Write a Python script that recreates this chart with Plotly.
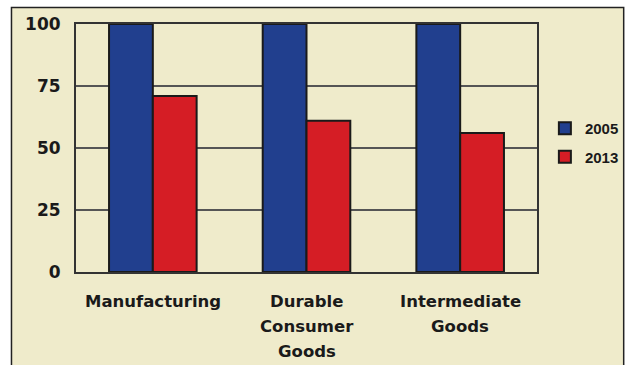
import plotly.graph_objects as go

categories = ["Manufacturing", "Durable\nConsumer\nGoods", "Intermediate\nGoods"]
series_names = ["2005", "2013"]
values_2005 = [100, 100, 100]
values_2013 = [71, 61, 56]
y_ticks = [0, 25, 50, 75, 100]

colors = {"2005": "#213f8e", "2013": "#d51d25"}
W, H = 636, 365
ML, MR, MT, MB = 76, 92, 24, 93
plot_w = W - ML - MR
plot_h = H - MT - MB

fig = go.Figure()
for name, vals in zip(series_names, [values_2005, values_2013]):
    fig.add_trace(go.Bar(
        x=list(range(len(categories))), y=vals, name=name,
        legendgroup=name,
        marker=dict(color=colors[name], line=dict(color="#1a1a1a", width=2)),
    ))

def py_to_paper(py):
    return (H - MB - py) / plot_h

def px_to_paper(px):
    return (px - ML) / plot_w

annotations = []
for i, cat in enumerate(categories):
    for j, line in enumerate(cat.split("\n")):
        annotations.append(dict(
            x=i, xref="x", y=py_to_paper(301 + 25 * j), yref="paper",
            text=line, showarrow=False, xanchor="center", yanchor="middle",
            font=dict(family="DejaVu Sans", size=16.5, color="#1a1a1a", weight="bold"),
        ))

fig.update_layout(
    width=W, height=H,
    margin=dict(l=ML, r=MR, t=MT, b=MB),
    paper_bgcolor="#ffffff",
    plot_bgcolor="#efebcb",
    barmode="group", bargap=0.43, bargroupgap=0,
    showlegend=True,
    legend=dict(
        x=px_to_paper(552), xanchor="left", y=py_to_paper(112), yanchor="top",
        bgcolor="rgba(0,0,0,0)", tracegroupgap=6,
        font=dict(family="Liberation Sans, Arial", size=15, color="#1a1a1a", weight="bold"),
        itemwidth=30,
    ),
    xaxis=dict(
        range=[-0.5, len(categories) - 0.5],
        showticklabels=False, showgrid=False, zeroline=False,
        showline=True, mirror=True, linecolor="#333333", linewidth=2,
        fixedrange=True,
    ),
    yaxis=dict(
        range=[0, 100], tickvals=y_ticks, ticktext=[str(v) for v in y_ticks],
        showgrid=True, gridcolor="#555555", gridwidth=1.5, zeroline=False,
        showline=True, mirror=True, linecolor="#333333", linewidth=2,
        ticks="", ticklabelstandoff=10,
        tickfont=dict(family="DejaVu Sans", size=17, color="#1a1a1a", weight="bold"),
        fixedrange=True,
    ),
    annotations=annotations,
    shapes=[dict(
        type="rect", xref="paper", yref="paper", layer="below",
        x0=px_to_paper(10.5), x1=px_to_paper(632), y0=py_to_paper(380), y1=py_to_paper(7.5),
        fillcolor="#efebcb", line=dict(color="#222222", width=1.5),
    )],
)

fig.write_html("out.html")
